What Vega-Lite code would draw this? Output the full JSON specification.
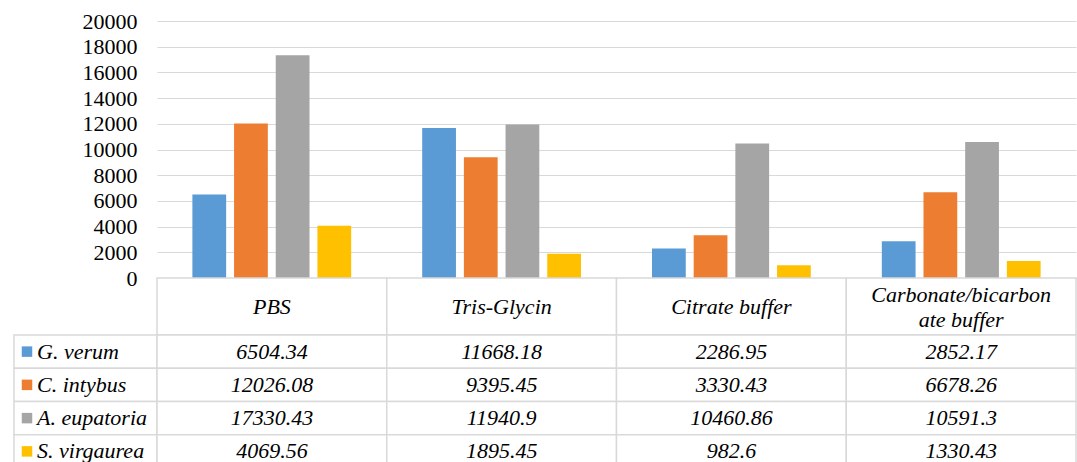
{
  "$schema": "https://vega.github.io/schema/vega-lite/v6.json",
  "padding": {"left": 13, "top": 10, "right": 2, "bottom": 0},
  "config": {"view": {"stroke": null}, "font": "Times New Roman", "text": {"font": "Times New Roman"}, "axis": {"labelFont": "Times New Roman"}},
  "bounds": "flush",
  "columns": 2,
  "spacing": 0,
  "resolve": {"scale": {"x": "independent", "y": "independent", "color": "shared"}},
  "data": {"values": [
    {"buffer": "PBS", "label": "PBS", "series": "G. verum", "value": 6504.34},
    {"buffer": "PBS", "label": "PBS", "series": "C. intybus", "value": 12026.08},
    {"buffer": "PBS", "label": "PBS", "series": "A. eupatoria", "value": 17330.43},
    {"buffer": "PBS", "label": "PBS", "series": "S. virgaurea", "value": 4069.56},
    {"buffer": "Tris-Glycin", "label": "Tris-Glycin", "series": "G. verum", "value": 11668.18},
    {"buffer": "Tris-Glycin", "label": "Tris-Glycin", "series": "C. intybus", "value": 9395.45},
    {"buffer": "Tris-Glycin", "label": "Tris-Glycin", "series": "A. eupatoria", "value": 11940.9},
    {"buffer": "Tris-Glycin", "label": "Tris-Glycin", "series": "S. virgaurea", "value": 1895.45},
    {"buffer": "Citrate buffer", "label": "Citrate buffer", "series": "G. verum", "value": 2286.95},
    {"buffer": "Citrate buffer", "label": "Citrate buffer", "series": "C. intybus", "value": 3330.43},
    {"buffer": "Citrate buffer", "label": "Citrate buffer", "series": "A. eupatoria", "value": 10460.86},
    {"buffer": "Citrate buffer", "label": "Citrate buffer", "series": "S. virgaurea", "value": 982.6},
    {"buffer": "Carbonate/bicarbonate buffer", "label": "Carbonate/bicarbon\nate buffer", "series": "G. verum", "value": 2852.17},
    {"buffer": "Carbonate/bicarbonate buffer", "label": "Carbonate/bicarbon\nate buffer", "series": "C. intybus", "value": 6678.26},
    {"buffer": "Carbonate/bicarbonate buffer", "label": "Carbonate/bicarbon\nate buffer", "series": "A. eupatoria", "value": 10591.3},
    {"buffer": "Carbonate/bicarbonate buffer", "label": "Carbonate/bicarbon\nate buffer", "series": "S. virgaurea", "value": 1330.43}
  ]},
  "concat": [
    {
      "width": 143, "height": 257,
      "transform": [{"filter": "false"}],
      "mark": {"type": "rect", "opacity": 0},
      "encoding": {}
    },
    {
      "width": 919, "height": 257,
      "mark": {"type": "bar"},
      "encoding": {
        "x": {"field": "buffer", "type": "nominal", "sort": ["PBS", "Tris-Glycin", "Citrate buffer", "Carbonate/bicarbonate buffer"], "scale": {"paddingInner": 0.309, "paddingOuter": 0.154}, "axis": null},
        "xOffset": {"field": "series", "type": "nominal", "sort": ["G. verum", "C. intybus", "A. eupatoria", "S. virgaurea"], "scale": {"paddingInner": 0.19, "paddingOuter": 0}},
        "y": {"field": "value", "type": "quantitative", "scale": {"domain": [0, 20000], "nice": false},
          "axis": {"title": null, "values": [0, 2000, 4000, 6000, 8000, 10000, 12000, 14000, 16000, 18000, 20000], "format": "d", "domain": false, "ticks": false, "labelFont": "Times New Roman", "labelFontSize": 22, "labelColor": "#000000", "labelPadding": 20, "gridColor": "#d9d9d9", "gridOpacity": 1}},
        "color": {"field": "series", "type": "nominal", "scale": {"domain": ["G. verum", "C. intybus", "A. eupatoria", "S. virgaurea"], "range": ["#5b9bd5", "#ed7d31", "#a5a5a5", "#ffc000"]}, "legend": null}
      }
    },
    {
      "width": 143, "height": 57,
      "transform": [{"filter": "false"}],
      "mark": {"type": "rect", "opacity": 0},
      "encoding": {}
    },
    {
      "width": 919, "height": 57,
      "transform": [{"filter": "datum.series == 'G. verum'"}],
      "layer": [
        {
          "mark": {"type": "rect", "fill": "white", "stroke": "#d9d9d9", "strokeWidth": 1.5},
          "encoding": {
            "x": {"field": "buffer", "type": "nominal", "sort": ["PBS", "Tris-Glycin", "Citrate buffer", "Carbonate/bicarbonate buffer"], "scale": {"paddingInner": 0, "paddingOuter": 0}, "axis": null}
          }
        },
        {
          "transform": [{"filter": "indexof(datum.label, '\\n') < 0"}],
          "mark": {"type": "text", "font": "Times New Roman", "fontStyle": "italic", "fontSize": 22, "color": "#000000", "baseline": "middle", "align": "center"},
          "encoding": {
            "x": {"field": "buffer", "type": "nominal", "sort": ["PBS", "Tris-Glycin", "Citrate buffer", "Carbonate/bicarbonate buffer"], "axis": null},
            "text": {"field": "label", "type": "nominal"}
          }
        },
        {
          "transform": [{"filter": "indexof(datum.label, '\\n') >= 0"}],
          "mark": {"type": "text", "font": "Times New Roman", "fontStyle": "italic", "fontSize": 22, "color": "#000000", "lineBreak": "\n", "lineHeight": 25, "dy": -12, "baseline": "middle", "align": "center"},
          "encoding": {
            "x": {"field": "buffer", "type": "nominal", "sort": ["PBS", "Tris-Glycin", "Citrate buffer", "Carbonate/bicarbonate buffer"], "axis": null},
            "text": {"field": "label", "type": "nominal"}
          }
        }
      ]
    },
    {
      "width": 143, "height": 133,
      "transform": [{"filter": "datum.buffer == 'PBS'"}],
      "layer": [
        {
          "mark": {"type": "rect", "fill": "white", "stroke": "#d9d9d9", "strokeWidth": 1.5},
          "encoding": {
            "y": {"field": "series", "type": "nominal", "sort": ["G. verum", "C. intybus", "A. eupatoria", "S. virgaurea"], "scale": {"paddingInner": 0, "paddingOuter": 0}, "axis": null}
          }
        },
        {
          "mark": {"type": "point", "shape": "square", "filled": true, "size": 110, "opacity": 1},
          "encoding": {
            "x": {"value": 13},
            "y": {"field": "series", "type": "nominal", "sort": ["G. verum", "C. intybus", "A. eupatoria", "S. virgaurea"], "axis": null},
            "color": {"field": "series", "type": "nominal", "legend": null}
          }
        },
        {
          "mark": {"type": "text", "font": "Times New Roman", "fontStyle": "italic", "fontSize": 22, "color": "#000000", "align": "left", "baseline": "middle"},
          "encoding": {
            "x": {"value": 23},
            "y": {"field": "series", "type": "nominal", "sort": ["G. verum", "C. intybus", "A. eupatoria", "S. virgaurea"], "axis": null},
            "text": {"field": "series", "type": "nominal"}
          }
        }
      ]
    },
    {
      "width": 919, "height": 133,
      "layer": [
        {
          "mark": {"type": "rect", "fill": "white", "stroke": "#d9d9d9", "strokeWidth": 1.5},
          "encoding": {
            "x": {"field": "buffer", "type": "nominal", "sort": ["PBS", "Tris-Glycin", "Citrate buffer", "Carbonate/bicarbonate buffer"], "scale": {"paddingInner": 0, "paddingOuter": 0}, "axis": null},
            "y": {"field": "series", "type": "nominal", "sort": ["G. verum", "C. intybus", "A. eupatoria", "S. virgaurea"], "scale": {"paddingInner": 0, "paddingOuter": 0}, "axis": null}
          }
        },
        {
          "mark": {"type": "text", "font": "Times New Roman", "fontStyle": "italic", "fontSize": 22, "color": "#000000", "align": "center", "baseline": "middle"},
          "encoding": {
            "x": {"field": "buffer", "type": "nominal", "sort": ["PBS", "Tris-Glycin", "Citrate buffer", "Carbonate/bicarbonate buffer"], "axis": null},
            "y": {"field": "series", "type": "nominal", "sort": ["G. verum", "C. intybus", "A. eupatoria", "S. virgaurea"], "axis": null},
            "text": {"field": "value", "type": "nominal"}
          }
        }
      ]
    }
  ]
}
